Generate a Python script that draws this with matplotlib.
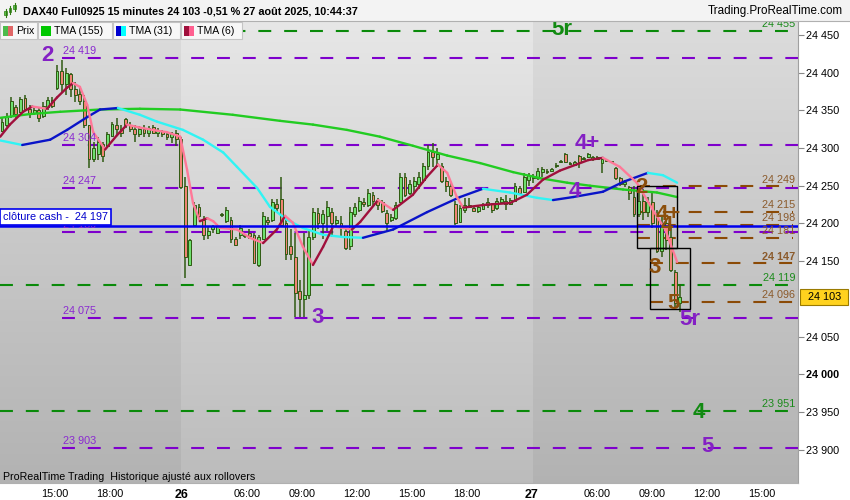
import matplotlib
matplotlib.use("Agg")
import matplotlib.pyplot as plt
import matplotlib.transforms as mtransforms
import numpy as np
from matplotlib.collections import LineCollection
from matplotlib.patches import Rectangle

plt.rcParams['font.family'] = ['Liberation Sans', 'DejaVu Sans']

# 15 minute bars, index 0 = first bar shown on the 25th
bar_open = [24322, 24330, 24342, 24355, 24348, 24366, 24352, 24346, 24350, 24342,
            24355, 24364, 24380, 24402, 24385, 24398, 24378, 24372, 24362, 24330,
            24285, 24292, 24305, 24302, 24316, 24330, 24325, 24338, 24330, 24325,
            24318, 24325, 24320, 24328, 24320, 24322, 24318, 24315, 24320,
            # 26
            24312, 24250, 24145, 24198, 24222, 24205, 24185, 24192, 24188, 24212,
            24203, 24205, 24180, 24185, 24185, 24188, 24185, 24145, 24180, 24205,
            24205, 24226, 24232, 24200, 24170, 24156, 24110, 24100, 24105, 24182,
            24214, 24200, 24210, 24215, 24200, 24200, 24190, 24170, 24212, 24218,
            24228, 24225, 24238, 24230, 24228, 24214, 24204, 24207, 24228, 24262,
            24240, 24250, 24252, 24258, 24276, 24295, 24285, 24276, 24256, 24250,
            24226, 24202, 24218, 24225, 24220, 24216, 24219, 24225, 24226, 24220,
            24228, 24230, 24226, 24230, 24247, 24242, 24258,
            # 27
            24260, 24260, 24268, 24270, 24270, 24276, 24281, 24292, 24280, 24278,
            24290, 24285, 24288, 24286, 24288, 24280, 24283, 24282, 24274, 24260,
            24252, 24248, 24235, 24212, 24230, 24215, 24228, 24208, 24163, 24200,
            24182, 24135, 24095]
bar_high = [24340, 24347, 24367, 24357, 24368, 24370, 24357, 24354, 24353, 24361,
            24368, 24367, 24410, 24417, 24406, 24400, 24388, 24380, 24370, 24331,
            24308, 24314, 24308, 24321, 24335, 24340, 24331, 24340, 24335, 24331,
            24329, 24331, 24329, 24331, 24327, 24324, 24321, 24321, 24324,
            24315, 24262, 24180, 24228, 24226, 24210, 24195, 24198, 24199, 24214,
            24222, 24208, 24182, 24198, 24186, 24192, 24188, 24185, 24215, 24208,
            24232, 24232, 24262, 24205, 24192, 24188, 24125, 24188, 24192, 24220,
            24220, 24218, 24230, 24220, 24210, 24210, 24192, 24222, 24227, 24235,
            24234, 24245, 24242, 24234, 24231, 24218, 24212, 24229, 24267, 24267,
            24258, 24262, 24268, 24280, 24304, 24307, 24300, 24280, 24262, 24254,
            24230, 24225, 24234, 24234, 24222, 24225, 24227, 24234, 24227, 24234,
            24235, 24238, 24234, 24254, 24249, 24267, 24267,
            24265, 24274, 24275, 24272, 24274, 24280, 24284, 24294, 24281, 24283,
            24291, 24288, 24294, 24289, 24290, 24288, 24284, 24283, 24275, 24262,
            24258, 24249, 24249, 24241, 24245, 24235, 24241, 24218, 24209, 24205,
            24196, 24138, 24120]
bar_low = [24321, 24328, 24340, 24340, 24347, 24349, 24340, 24344, 24335, 24340,
           24351, 24353, 24377, 24374, 24370, 24367, 24361, 24357, 24327, 24274,
           24282, 24284, 24282, 24300, 24314, 24318, 24314, 24327, 24321, 24308,
           24314, 24314, 24315, 24318, 24315, 24315, 24311, 24307, 24302,
           24245, 24128, 24143, 24196, 24205, 24178, 24180, 24188, 24186, 24209,
           24200, 24174, 24170, 24180, 24181, 24180, 24146, 24142, 24178, 24198,
           24202, 24215, 24195, 24152, 24152, 24076, 24076, 24076, 24100, 24178,
           24192, 24180, 24190, 24182, 24195, 24182, 24165, 24165, 24208, 24215,
           24222, 24222, 24222, 24218, 24214, 24189, 24202, 24205, 24227, 24235,
           24238, 24241, 24245, 24254, 24271, 24275, 24275, 24254, 24242, 24235,
           24198, 24200, 24214, 24221, 24215, 24214, 24218, 24221, 24214, 24218,
           24227, 24218, 24225, 24229, 24238, 24241, 24249,
           24254, 24258, 24262, 24266, 24268, 24274, 24280, 24280, 24277, 24277,
           24274, 24284, 24287, 24283, 24284, 24267, 24282, 24280, 24258, 24249,
           24248, 24231, 24208, 24209, 24205, 24209, 24194, 24161, 24156, 24165,
           24135, 24088, 24082]
bar_close = [24334, 24343, 24362, 24345, 24365, 24352, 24345, 24350, 24340, 24356,
             24364, 24356, 24402, 24385, 24400, 24378, 24370, 24362, 24330, 24285,
             24300, 24308, 24290, 24318, 24332, 24325, 24320, 24330, 24325, 24318,
             24325, 24320, 24326, 24320, 24324, 24318, 24315, 24318, 24312,
             24248, 24155, 24178, 24225, 24210, 24185, 24190, 24196, 24196, 24211,
             24218, 24180, 24172, 24194, 24183, 24184, 24148, 24182, 24210, 24202,
             24228, 24220, 24198, 24160, 24160, 24108, 24100, 24105, 24182, 24215,
             24200, 24212, 24222, 24200, 24205, 24195, 24168, 24215, 24222, 24230,
             24226, 24240, 24230, 24225, 24216, 24201, 24208, 24225, 24262, 24238,
             24252, 24256, 24262, 24276, 24295, 24288, 24292, 24256, 24250, 24238,
             24200, 24220, 24225, 24222, 24217, 24222, 24225, 24228, 24218, 24230,
             24233, 24226, 24231, 24250, 24240, 24262, 24264,
             24262, 24270, 24272, 24268, 24272, 24278, 24283, 24282, 24279, 24281,
             24281, 24287, 24292, 24288, 24286, 24286, 24283, 24281, 24260, 24252,
             24255, 24240, 24212, 24230, 24215, 24228, 24200, 24163, 24200, 24178,
             24138, 24095, 24103]
day_starts = [39, 116]

# moving averages: (bar index, price)
tma155_x = [-0.4, 6.1, 12.7, 21.4, 30.1, 38.9, 50.4, 60.7, 67.9, 75.3, 82.5,
            89.7, 97.2, 104.4, 111.6, 117.5, 123.4, 128.4, 135.6, 143.0, 147.4]
tma155_y = [24340, 24345, 24348, 24351, 24352, 24351, 24344, 24336, 24331, 24324, 24315,
            24303, 24290, 24280, 24268, 24260, 24254, 24250, 24245, 24241, 24235]
tma31_x = [-0.4, 4.4, 10.5, 14.2, 18.6, 21.4, 25.3, 30.1, 33.8, 39.5, 43.9, 48.3,
           51.3, 55.7, 58.5, 62.2, 65.7, 70.1, 74.5, 78.8, 85.4, 92.8, 100.0, 105.0,
           110.9, 116.8, 120.3, 124.7, 131.2, 135.6, 141.0, 144.3, 147.4]
tma31_y = [24310, 24304, 24311, 24324, 24341, 24351, 24353, 24344, 24335, 24324, 24311, 24294,
           24275, 24247, 24222, 24205, 24194, 24185, 24182, 24181, 24192, 24215, 24235, 24246,
           24241, 24234, 24231, 24235, 24242, 24255, 24267, 24264, 24254]
tma6_x = [-0.4, 1.7, 4.6, 6.6, 9.8, 12.0, 14.2, 15.5, 17.0, 18.6, 19.9, 22.5, 25.1,
          27.3, 30.1, 33.8, 36.0, 38.9, 40.4, 41.7, 43.2, 44.8, 46.1, 47.6, 51.3, 54.1,
          57.0, 60.0, 61.8, 63.5, 65.7, 67.9, 70.1, 72.3, 74.5, 76.4, 78.2, 82.1, 85.4,
          89.7, 92.8, 95.2, 97.2, 99.3, 100.7, 105.9, 110.9, 114.6, 118.1, 121.8, 128.0,
          131.2, 134.9, 138.6, 142.1, 144.8, 147.4]
tma6_y = [24315, 24331, 24348, 24355, 24352, 24367, 24380, 24386, 24381, 24357, 24321, 24298, 24317,
          24331, 24327, 24323, 24321, 24315, 24271, 24227, 24203, 24207, 24203, 24194, 24192, 24181,
          24174, 24192, 24210, 24201, 24169, 24145, 24169, 24196, 24194, 24192, 24202, 24231, 24218,
          24238, 24262, 24278, 24267, 24235, 24221, 24225, 24227, 24238, 24258, 24270, 24284,
          24287, 24275, 24254, 24218, 24192, 24149]

purple_levels = [24419, 24304, 24247, 24189, 24075, 23903]
green_levels = [24455, 24119, 23951]
brown_levels = [24249, 24215, 24198, 24181, 24147, 24096]
cash_close = 24197
last_price = 24103

purple_waves = [('2', 9.8, 24426), ('3', 68.8, 24078), ('4+', 127.7, 24309),
                ('4', 125.1, 24246), ('5r', 150.2, 24076), ('5', 154.1, 23907)]
green_waves = [('5r', 122.3, 24460), ('4', 152.2, 23952)]
brown_waves = [('2', 139.7, 24251), ('4+', 145.4, 24215), ('4', 145.2, 24200),
               ('3', 142.6, 24145), ('5', 146.7, 24097)]
wave_boxes = [(138.6, 147.4, 24168, 24249), (141.5, 150.2, 24087, 24168)]

tick_pos = [11.6, 23.6, 39.1, 53.5, 65.5, 77.5, 89.5, 101.5, 115.5, 129.9, 141.9, 153.9, 165.9]
tick_labels = ['15:00', '18:00', '26', '06:00', '09:00', '12:00', '15:00', '18:00', '27',
               '06:00', '09:00', '12:00', '15:00']

title = "DAX40 Full0925 15 minutes 24 103 -0,51 % 27 août 2025, 10:44:37"

PURPLE = '#7e00cc'
PURPLE_TXT = '#8a2ad0'
GREEN = '#0a8a0a'
BROWN = '#8b4a06'
WICK = '#2f5a12'


def fmt(v):
    return f"{v:,}".replace(',', ' ')


W, H = 850.0, 500.0
fig = plt.figure(figsize=(8.5, 5), dpi=100)
fig.patch.set_facecolor('white')
ax = fig.add_axes([0, 1 - 483 / H, 798 / W, (483 - 22) / H])
x_lo, x_hi = -0.45, 173.8
y_lo, y_hi = 23856, 24467

# background: vertical gradient, darker on the 25th and the 27th
shade = np.linspace(0, 1, 200)[:, None]
edges = [x_lo] + day_starts + [x_hi]
for k, (a, b) in enumerate(zip(edges[:-1], edges[1:])):
    top, bot = (0.905, 0.737) if k == 1 else (0.862, 0.700)
    g = top + (bot - top) * shade
    ax.imshow(np.dstack([g, g, g]), extent=[a, b, y_lo, y_hi], aspect='auto',
              origin='upper', zorder=0, interpolation='bilinear')

# horizontal levels
dash = (0, (6.2, 6.2))
for lvl in purple_levels:
    ax.plot([13, x_hi], [lvl, lvl], color=PURPLE, lw=1.5, linestyle=dash, zorder=2)
    ax.text(13.2, lvl + 2.5, fmt(lvl), color=PURPLE_TXT, fontsize=7.8, ha='left',
            va='bottom', zorder=7)
for lvl in green_levels:
    ax.plot([x_lo, 172.7], [lvl, lvl], color=GREEN, lw=1.5, linestyle=dash, zorder=2)
    ax.text(173.2, lvl + 2.5, fmt(lvl), color='#1a8a1a', fontsize=7.8, ha='right',
            va='bottom', zorder=7)
for k, lvl in enumerate(brown_levels):
    start = wave_boxes[0][0] if k < 4 else wave_boxes[1][0]
    ax.plot([start, 172.7], [lvl, lvl], color=BROWN, lw=1.5, linestyle=dash, zorder=2)
    ax.text(173.2, lvl + 2.5, fmt(lvl), color='#8b5a2b', fontsize=7.8, ha='right',
            va='bottom', zorder=7, weight='bold' if lvl == 24147 else 'normal')

# candles
o = np.array(bar_open)
hi = np.array(bar_high)
lo = np.array(bar_low)
c = np.array(bar_close)
idx = np.arange(len(o))
up = c >= o
ax.vlines(idx, lo, hi, color=WICK, lw=1.1, zorder=3)
ax.bar(idx, np.maximum(np.abs(c - o), 1.5), bottom=np.minimum(o, c), width=0.62,
       color=['#6ee06e' if u else '#f08474' for u in up], edgecolor=WICK,
       linewidth=0.7, zorder=4)


def trend_line(xs, ys, up_col, down_col, lw):
    pts = np.column_stack([xs, ys])
    segs = np.stack([pts[:-1], pts[1:]], axis=1)
    cols = [up_col if b[1] >= a[1] else down_col for a, b in zip(pts[:-1], pts[1:])]
    ax.add_collection(LineCollection(segs, colors=cols, linewidths=lw, zorder=5,
                                     capstyle='round', joinstyle='round'))


trend_line(tma155_x, tma155_y, '#22cc22', '#22cc22', 1.7)
trend_line(tma31_x, tma31_y, '#0a14c8', '#30f4f4', 1.7)
trend_line(tma6_x, tma6_y, '#a0103c', '#ff7898', 1.7)

# cash close
ax.axhline(cash_close, color='#0000ee', lw=1.8, zorder=6)
ax.text(0.2, cash_close + 5, 'clôture cash -  ' + fmt(cash_close), color='#0000cc',
        fontsize=7.8, ha='left', va='bottom', zorder=8,
        bbox=dict(boxstyle='square,pad=0.25', facecolor='white', edgecolor='#0000ee', lw=1.2))

# wave boxes and counts
for x0, x1, p0, p1 in wave_boxes:
    ax.add_patch(Rectangle((x0, p0), x1 - x0, p1 - p0, fill=False, edgecolor='black',
                           lw=1.0, zorder=6))
for waves, col in ((purple_waves, '#8420c4'), (green_waves, '#128a12'), (brown_waves, '#8c4f0c')):
    for txt, x, p in waves:
        ax.annotate(txt, (x, p), xytext=(0, -5.7), textcoords='offset points', ha='center',
                    va='baseline', fontsize=16, weight='bold', color=col, zorder=9)

ax.text(0.004, 0.013, 'ProRealTime Trading  Historique ajusté aux rollovers',
        transform=ax.transAxes, fontsize=7.7, ha='left', va='center', zorder=9)

# axes
ax.set_xlim(x_lo, x_hi)
ax.set_ylim(y_lo, y_hi)
yt = [v for v in range(23900, 24451, 50) if v != 24100]
ax.yaxis.tick_right()
ax.set_yticks(yt, [fmt(v) for v in yt])
for t, v in zip(ax.get_yticklabels(), yt):
    if v == 24000:
        t.set_fontweight('bold')
ax.tick_params(axis='y', length=4, width=0.8, color='#888888', labelsize=7.8, pad=2)
ax.set_xticks(tick_pos, tick_labels)
ax.tick_params(axis='x', length=0, labelsize=7.8, pad=4)
for t in ax.get_xticklabels():
    if t.get_text() in ('26', '27'):
        t.set_fontweight('bold')
        t.set_fontsize(9)
for s in ('top', 'left'):
    ax.spines[s].set_visible(False)
ax.spines['right'].set_color('#a0a0a0')
ax.spines['bottom'].set_color('#b0b0b0')

# last price tag
blend = mtransforms.blended_transform_factory(ax.transAxes, ax.transData)
ax.add_patch(Rectangle((1.0025, last_price - 10.6), 0.06, 21.2, transform=blend,
                       facecolor='#ffd21e', edgecolor='#9a7a00', lw=0.8, clip_on=False, zorder=10))
ax.text(1.033, last_price, fmt(last_price), transform=blend, ha='center', va='center',
        fontsize=7.8, zorder=11, clip_on=False)

# header
fig.add_artist(Rectangle((0, 1 - 21 / H), 1, 21 / H, transform=fig.transFigure,
                         facecolor='#f3f3f3', edgecolor='none'))
fig.add_artist(plt.Line2D([0, 1], [1 - 21 / H, 1 - 21 / H], transform=fig.transFigure,
                          color='#b0b0b0', lw=0.8))
for x0, y0, y1 in ((5.5, 9, 17), (10, 6, 14), (14.5, 3, 11)):
    fig.add_artist(plt.Line2D([x0 / W, x0 / W], [1 - y1 / H, 1 - y0 / H],
                              transform=fig.transFigure, color='#2f7a12', lw=0.8))
    fig.add_artist(Rectangle(((x0 - 1.3) / W, 1 - (y1 - 2) / H), 2.6 / W, (y1 - y0 - 4) / H,
                             transform=fig.transFigure, facecolor='#58c848',
                             edgecolor='#2f7a12', lw=0.5))
fig.text(23 / W, 1 - 11 / H, title, fontsize=7.8, weight='bold', ha='left', va='center')
fig.text(843 / W, 1 - 11 / H, 'Trading.ProRealTime.com', fontsize=8.4, ha='right', va='center')

# legend row
legend_items = [('Prix', ['#4cbb4c', '#e06666'], 0, 37),
                ('TMA (155)', ['#00c800'], 38, 112),
                ('TMA (31)', ['#0000d0', '#00ffff'], 113, 180),
                ('TMA (6)', ['#a0103c', '#ff6090'], 181, 242)]
for label, cols, x0, x1 in legend_items:
    fig.add_artist(Rectangle((x0 / W, 1 - 39 / H), (x1 - x0) / W, 17 / H,
                             transform=fig.transFigure, facecolor='#f7f7f7',
                             edgecolor='#c4c4c4', lw=0.8))
    n = len(cols)
    for j, col in enumerate(cols):
        fig.add_artist(Rectangle(((x0 + 3 + j * 10 / n) / W, 1 - 36 / H), (10 / n) / W, 10 / H,
                                 transform=fig.transFigure, facecolor=col, edgecolor='none'))
    fig.text((x0 + 16) / W, 1 - 31 / H, label, fontsize=7.6, ha='left', va='center')

fig.savefig('out.png', dpi=100)
